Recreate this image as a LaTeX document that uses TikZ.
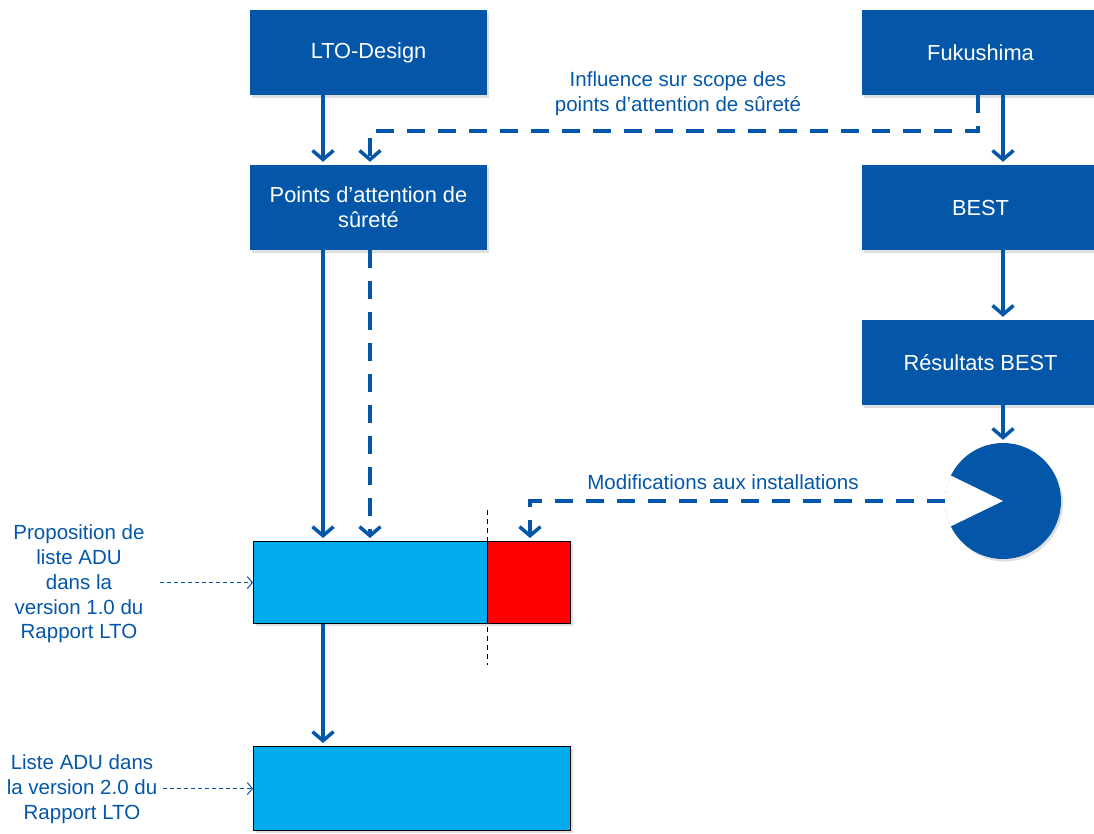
\documentclass[tikz,border=0pt]{standalone}
\usepackage{fontspec}
\setmainfont{Liberation Sans}
\usetikzlibrary{arrows.meta,shadows}
\definecolor{dblue}{RGB}{4,87,168}
\definecolor{lblue}{RGB}{0,172,238}
\begin{document}
\begin{tikzpicture}[x=1pt,y=-1pt,
  shd/.style={drop shadow={shadow xshift=2pt,shadow yshift=-2.5pt,opacity=0.25}},
  box/.style={fill=dblue, text=white, minimum width=237pt, minimum height=85pt, inner sep=0pt, align=center, font=\fontsize{21.8}{25}\selectfont, shd},
  bar/.style={draw=black, line width=1.2pt, minimum height=82pt, inner sep=0pt, anchor=north west, shd},
  lbl/.style={text=dblue, align=center, inner sep=0pt, font=\fontsize{20.5}{24.7}\selectfont},
  arr/.style={draw=dblue, line width=3.5pt, -{Straight Barb[length=9pt,width=21pt]}, shorten >=3pt},
  darr/.style={arr, dash pattern=on 18pt off 13pt},
  thinarr/.style={draw=dblue, line width=1pt, dash pattern=on 4pt off 3pt, -{Straight Barb[length=5pt,width=12pt]}}
]
\clip[use as bounding box] (0,0) rectangle (1094,833);

% blocks
\node[box] (lto)  at (368.5,52.5)  {LTO-Design};
\node[box] (fuku) at (980.5,52.5)  {Fukushima};
\node[box] (pts)  at (368.5,207.5) {Points d’attention de\\sûreté};
\node[box] (best) at (980.5,207.5) {BEST};
\node[box] (res)  at (980.5,362.5) {Résultats BEST};
\node[circle, fill=dblue, minimum size=116pt, inner sep=0pt, shd] (circ) at (1003,501) {};
\fill[white] (circ.center) -- (circ.154) arc[start angle=206,end angle=154,radius=58] -- cycle;

\node[bar, fill=lblue, minimum width=234pt] (r1)  at (253,541) {};
\node[bar, fill=red,   minimum width=83pt]  (r1b) at (487,541) {};
\node[bar, fill=lblue, minimum width=317pt, minimum height=84pt] (r2) at (253,746) {};

% helper coordinates
\coordinate (xa) at (323,0);
\coordinate (xb) at (370,0);
\coordinate (xc) at (1003,0);
\coordinate (fx) at (978,0);
\coordinate (yh) at (0,131);
\coordinate (xm) at (530,0);
\coordinate (vt) at (487,510);
\coordinate (vb) at (487,665);
\coordinate (s1) at (160,0);
\coordinate (s2) at (163,0);

% cut line
\draw[black, line width=0.9pt, dash pattern=on 5pt off 4pt] (vt) -- (vb);

% connectors
\draw[arr]  (lto.south -| xa) -- (pts.north -| xa);
\draw[darr] (fuku.south -| fx) -- (fx |- yh) -- (xb |- yh) -- (pts.north -| xb);
\draw[arr]  (fuku.south -| xc) -- (best.north -| xc);
\draw[arr]  (pts.south -| xa) -- (r1.north -| xa);
\draw[darr] (pts.south -| xb) -- (r1.north -| xb);
\draw[arr]  (best.south -| xc) -- (res.north -| xc);
\draw[arr]  (res.south -| xc) -- (circ.north);
\draw[darr] (circ.west) -- (xm |- circ.west) -- (r1b.north -| xm);
\draw[arr]  (r1.south -| xa) -- (r2.north -| xa);

% labels
\node[lbl] (inf) at (678,94) {Influence sur scope des\\points d’attention de sûreté};
\node[lbl] (mod) at (723,482) {Modifications aux installations};
\node[lbl] (l1) at (79,584) {Proposition de\\liste ADU\\dans la\\version 1.0 du\\Rapport LTO};
\node[lbl] (l2) at (82,789) {Liste ADU dans\\la version 2.0 du\\Rapport LTO};
\draw[thinarr] (r1.west -| s1) -- (r1.west);
\draw[thinarr] (r2.west -| s2) -- (r2.west);
\end{tikzpicture}
\end{document}
